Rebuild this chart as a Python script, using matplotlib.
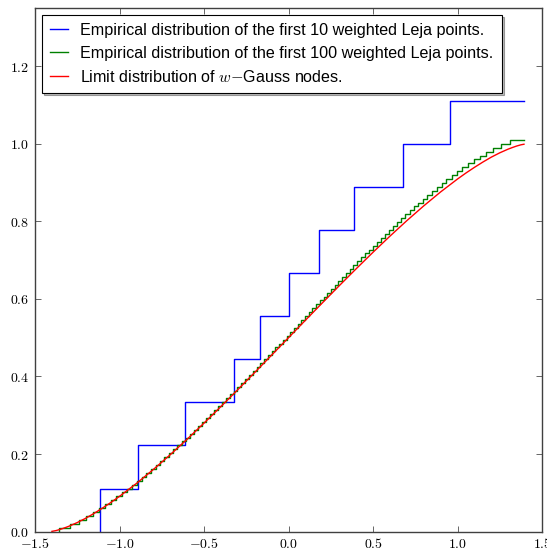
import numpy as np
import matplotlib
matplotlib.use("Agg")
import matplotlib.pyplot as plt
from matplotlib.ticker import FuncFormatter

plt.rcParams['mathtext.fontset'] = 'cm'
plt.rcParams['font.family'] = ['Liberation Sans', 'DejaVu Sans']

# jump positions of the empirical distribution with 10 points
leja10 = [-1.115, -0.889, -0.611, -0.321, -0.167, 0.0, 0.182, 0.388, 0.676, 0.957]

# jump positions with 100 points
leja100 = [
    -1.357, -1.293, -1.242, -1.198, -1.158, -1.121, -1.086, -1.051, -1.019, -0.987,
    -0.956, -0.927, -0.897, -0.869, -0.841, -0.813, -0.787, -0.760, -0.734, -0.708,
    -0.683, -0.657, -0.632, -0.608, -0.583, -0.559, -0.535, -0.511, -0.487, -0.464,
    -0.440, -0.417, -0.394, -0.371, -0.348, -0.325, -0.302, -0.279, -0.257, -0.234,
    -0.212, -0.189, -0.167, -0.145, -0.122, -0.100, -0.078, -0.056, -0.033, -0.011,
    0.010, 0.032, 0.054, 0.076, 0.097, 0.119, 0.141, 0.163, 0.184, 0.207,
    0.228, 0.251, 0.272, 0.295, 0.317, 0.339, 0.362, 0.384, 0.407, 0.429,
    0.452, 0.475, 0.498, 0.522, 0.545, 0.568, 0.592, 0.616, 0.640, 0.665,
    0.690, 0.716, 0.741, 0.768, 0.794, 0.821, 0.849, 0.876, 0.905, 0.934,
    0.965, 0.996, 1.029, 1.062, 1.096, 1.132, 1.170, 1.211, 1.256, 1.310,
]
x_end = 1.393

# limit distribution curve
limit_x = [-1.40, -1.375, -1.35, -1.325, -1.30, -1.25, -1.20, -1.15, -1.10, -1.05, -1.00,
           -0.90, -0.80, -0.70, -0.60, -0.50, -0.40, -0.30, -0.20, -0.10, 0.00,
           0.10, 0.20, 0.30, 0.40, 0.50, 0.60, 0.70, 0.80, 0.90, 1.00,
           1.05, 1.10, 1.15, 1.20, 1.25, 1.30, 1.325, 1.35, 1.375, 1.393]
limit_y = [0.0006, 0.0027, 0.0058, 0.0096, 0.0137, 0.0233, 0.0344, 0.0471, 0.0608, 0.0754, 0.0909,
           0.1241, 0.1601, 0.1982, 0.2382, 0.2797, 0.3224, 0.3660, 0.4103, 0.4550, 0.5000,
           0.5450, 0.5897, 0.6340, 0.6776, 0.7203, 0.7618, 0.8018, 0.8399, 0.8759, 0.9092,
           0.9247, 0.9392, 0.9529, 0.9656, 0.9767, 0.9863, 0.9904, 0.9942, 0.9973, 0.9988]


def staircase(points):
    n = len(points)
    xs = np.append(points, x_end)
    ys = np.arange(n + 1) / (n - 1)
    return xs, ys


fig = plt.figure(figsize=(5.47, 5.49), dpi=100)
ax = fig.add_axes([0.064, 0.0317, 0.927, 0.9537])

xs, ys = staircase(leja10)
ax.step(xs, ys, where='pre', color='b', lw=1,
        label='Empirical distribution of the first 10 weighted Leja points.')
xs, ys = staircase(leja100)
ax.step(xs, ys, where='pre', color='g', lw=1,
        label='Empirical distribution of the first 100 weighted Leja points.')
ax.plot(limit_x, limit_y, color='r', lw=1,
        label='Limit distribution of $w{-}$Gauss nodes.')

ax.set_xlim(-1.5, 1.5)
ax.set_ylim(0, 1.35)
ax.set_xticks(np.arange(-1.5, 1.51, 0.5))
ax.set_yticks(np.arange(0, 1.21, 0.2))
fmt = FuncFormatter(lambda v, p: "$%.1f$" % v)
ax.xaxis.set_major_formatter(fmt)
ax.yaxis.set_major_formatter(fmt)
ax.tick_params(direction='in', top=True, right=True, length=4, width=0.6,
               labelsize=10, pad=4, color='0.3')
for s in ax.spines.values():
    s.set_color('0.25')
    s.set_linewidth(1.0)

leg = ax.legend(loc='upper left', fontsize=11.6, frameon=True, fancybox=False,
                shadow={'ox': 1.5, 'oy': -1.5, 'facecolor': '0.5'},
                borderaxespad=0.42, handlelength=1.1, labelspacing=0.5,
                borderpad=0.5, handletextpad=0.8)
leg.get_frame().set_edgecolor('k')
leg.get_frame().set_linewidth(0.8)

fig.savefig('out.png', dpi=100)
